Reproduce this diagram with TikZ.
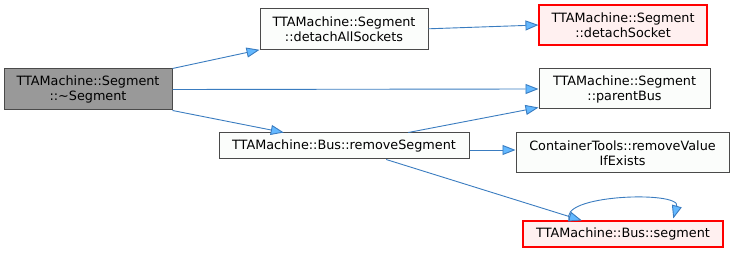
\documentclass[tikz,border=0pt]{standalone}
\usepackage{fontspec}
\setmainfont{DejaVu Sans}
\usetikzlibrary{arrows.meta,calc}
\definecolor{edgeline}{HTML}{3A7CC0}
\definecolor{edgehead}{HTML}{63B8FF}
\definecolor{plainfill}{HTML}{FBFDFB}
\definecolor{plainedge}{HTML}{4A4A4A}
\definecolor{rootfill}{HTML}{999999}
\definecolor{rootedge}{HTML}{4A4A4A}
\definecolor{warnfill}{HTML}{FFF0F0}
\definecolor{warnedge}{HTML}{FF0000}
\tikzset{
  fn/.style={draw=plainedge, fill=plainfill, line width=1pt, align=center,
    inner sep=0pt, font=\fontsize{12.8}{15}\selectfont, text=black},
  rootfn/.style={fn, draw=rootedge, fill=rootfill},
  warnfn/.style={fn, draw=warnedge, fill=warnfill, line width=1.1pt},
  call/.style={draw=edgeline, line width=0.9pt,
    -{Triangle[length=13pt,width=10pt,fill=edgehead]}},
}
\begin{document}
\begin{tikzpicture}[x=1pt,y=-1pt]
\useasboundingbox (0,0) rectangle (735,253);
% functions
\node[rootfn, minimum width=168pt, minimum height=41pt] (dtor) at (88,89.5)
  {TTAMachine::Segment\\::\textasciitilde Segment};
\node[fn, minimum width=168pt, minimum height=41pt] (detachAll) at (344,28.8)
  {TTAMachine::Segment\\::detachAllSockets};
\node[warnfn, minimum width=168pt, minimum height=40pt] (detachOne) at (623,25)
  {TTAMachine::Segment\\::detachSocket};
\node[fn, minimum width=171pt, minimum height=40pt] (parent) at (624.5,89)
  {TTAMachine::Segment\\::parentBus};
\node[fn, minimum width=250pt, minimum height=26pt] (remove) at (344,146)
  {TTAMachine::Bus::removeSegment};
\node[fn, minimum width=213pt, minimum height=40pt] (contain) at (622.5,153)
  {ContainerTools::removeValue\\IfExists};
\node[warnfn, minimum width=200pt, minimum height=26pt] (segment) at (623,234)
  {TTAMachine::Bus::segment};
% calls
\draw[call] (dtor.north east) -- (detachAll.south west);
\draw[call] (detachAll.east) -- (detachOne.west);
\draw[call] (dtor.east) -- (parent.west);
\draw[call] (dtor.south east) -- ($(remove.north west)!0.26!(remove.north east)$);
\draw[call] ($(remove.north west)!0.756!(remove.north east)$) -- ($(parent.south west)+(0,-2)$);
\draw[call] ($(remove.east)+(0,4)$) -- ($(contain.west)+(0,-3)$);
\draw[call] ($(remove.south west)!0.668!(remove.south east)$) -- ($(segment.north west)!0.295!(segment.north east)$);
\draw[call] ($(segment.north west)!0.235!(segment.north east)$)
  .. controls +(-14,-26) and +(8,-28) .. ($(segment.north west)!0.75!(segment.north east)+(0,-2)$);
\end{tikzpicture}
\end{document}
